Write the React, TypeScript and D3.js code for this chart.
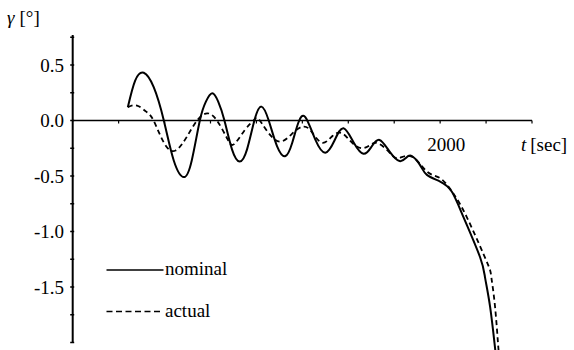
import React from "react";
import * as d3 from "d3";

const timeNominal = [300, 340, 387, 441, 496, 550, 605, 648, 692, 725, 759, 792, 826, 867, 909, 949, 989, 1027, 1067, 1112, 1158, 1195, 1228, 1266, 1320, 1375, 1425, 1474, 1530, 1583, 1625, 1670, 1725, 1779, 1815, 1846, 1890, 1928, 2000, 2063, 2127, 2217, 2245, 2272, 2299, 2305];
const nominal = [0.12, 0.36, 0.43, 0.3, 0.0, -0.36, -0.51, -0.36, 0.0, 0.17, 0.245, 0.17, 0.0, -0.26, -0.37, -0.26, 0.0, 0.125, 0.0, -0.23, -0.32, -0.2, -0.02, 0.03, -0.17, -0.29, -0.18, -0.07, -0.2, -0.3, -0.24, -0.175, -0.28, -0.365, -0.335, -0.32, -0.4, -0.49, -0.55, -0.64, -0.87, -1.23, -1.42, -1.68, -2.05, -2.12];

const timeActual = [300, 350, 400, 440, 500, 560, 620, 677, 732, 785, 840, 877, 935, 984, 1011, 1060, 1130, 1200, 1255, 1300, 1357, 1414, 1466, 1520, 1574, 1620, 1661, 1720, 1769, 1846, 1928, 2000, 2072, 2145, 2235, 2272, 2281, 2299, 2317, 2322];
const actual = [0.12, 0.135, 0.08, 0.0, -0.21, -0.27, -0.15, 0.0, 0.065, 0.0, -0.16, -0.215, -0.09, 0.0, 0.015, -0.1, -0.19, -0.11, -0.055, -0.1, -0.2, -0.14, -0.115, -0.2, -0.25, -0.22, -0.205, -0.28, -0.34, -0.325, -0.46, -0.52, -0.657, -0.87, -1.2, -1.35, -1.44, -1.68, -2.05, -2.12];

const yTickLabels = ["0.5", "0.0", "-0.5", "-1.0", "-1.5"];
const yTickValues = [0.5, 0.0, -0.5, -1.0, -1.5];
const yMinorTicks = [0.75, 0.5, 0.25, 0.0, -0.25, -0.5, -0.75, -1.0, -1.25, -1.5, -1.75, -2.0];
const xTickValues = [250, 500, 750, 1000, 1250, 1500, 1750, 2000, 2250, 2500];
const xTickLabels = [{ t: 2000, label: "2000" }];
const legendLabels = ["nominal", "actual"];

const FS = 19;
const textStyle: React.CSSProperties = {
  fontFamily: '"Liberation Serif", "DejaVu Serif", "Times New Roman", serif',
  fontSize: FS,
};

export default function App() {
  const x = d3.scaleLinear().domain([0, 2500]).range([72.7, 532]);
  const y = d3.scaleLinear().domain([0, -1.5]).range([120.5, 287]);

  const line = d3
    .line<[number, number]>()
    .x((d) => x(d[0]))
    .y((d) => y(d[1]))
    .curve(d3.curveNatural);

  const nomPts = timeNominal.map((t, i) => [t, nominal[i]] as [number, number]);
  const actPts = timeActual.map((t, i) => [t, actual[i]] as [number, number]);

  const x0 = x(0);
  const yTop = y(0.77);
  const yBot = y(-2.0);

  return (
    <svg
      width={574}
      height={350}
      style={{ position: "absolute", left: 0, top: 0, background: "#fff" }}
    >
      <rect width={574} height={350} fill="#fff" />
      <line x1={x0} x2={x0} y1={yTop} y2={yBot} stroke="#000" strokeWidth={2} />
      {yMinorTicks.map((v) => (
        <line key={v} x1={x0 - 2.5} x2={x0 + 1.5} y1={y(v)} y2={y(v)} stroke="#000" strokeWidth={1.5} />
      ))}
      {yTickValues.map((v, i) => (
        <text key={v} x={64} y={y(v)} dy="0.35em" textAnchor="end" style={textStyle} fill="#000">
          {yTickLabels[i]}
        </text>
      ))}
      <line x1={x0} x2={x(2500)} y1={y(0)} y2={y(0)} stroke="#000" strokeWidth={1.6} />
      {xTickValues.map((t) => (
        <line key={t} x1={x(t)} x2={x(t)} y1={y(0)} y2={y(0) + 3} stroke="#000" strokeWidth={1.2} />
      ))}
      {xTickLabels.map((d) => (
        <text key={d.t} x={x(d.t) + 6} y={151} textAnchor="middle" style={textStyle} fill="#000">
          {d.label}
        </text>
      ))}
      <text x={7} y={24} style={textStyle} fill="#000">
        <tspan fontStyle="italic">γ</tspan>
        <tspan dx={5}>[°]</tspan>
      </text>
      <text x={521} y={151} style={textStyle} fill="#000">
        <tspan fontStyle="italic">t</tspan>
        <tspan dx={4}>[sec]</tspan>
      </text>
      <path d={line(nomPts) || ""} fill="none" stroke="#000" strokeWidth={2} />
      <path d={line(actPts) || ""} fill="none" stroke="#000" strokeWidth={1.8} strokeDasharray="5,3.5" />
      <line x1={106.5} x2={163.5} y1={270} y2={270} stroke="#000" strokeWidth={1.5} />
      <text x={165} y={275} style={textStyle} fill="#000">{legendLabels[0]}</text>
      <line x1={106.5} x2={163.5} y1={311.5} y2={311.5} stroke="#000" strokeWidth={1.5} strokeDasharray="6,3.5" />
      <text x={165} y={317} style={textStyle} fill="#000">{legendLabels[1]}</text>
    </svg>
  );
}
